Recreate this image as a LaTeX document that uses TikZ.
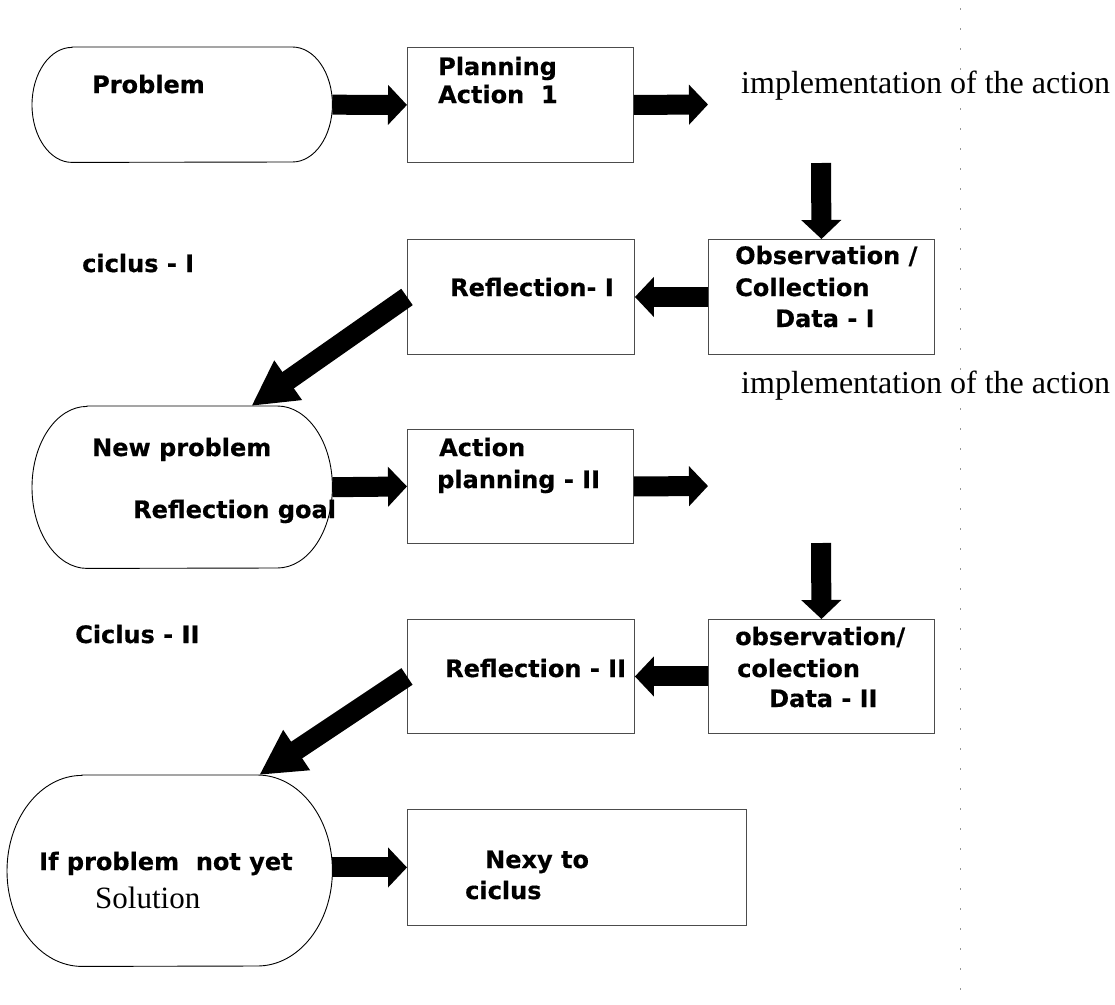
\documentclass[tikz,border=0pt]{standalone}
\usepackage{fontspec}
\setmainfont{Liberation Serif}
\newfontfamily\labelfont{DejaVu Sans Bold}[FakeBold=0.5]
\usetikzlibrary{calc,arrows.meta}

\tikzset{
  box/.style={draw=black!70, line width=0.9pt, inner sep=0pt, anchor=north west,
    minimum width=227pt, minimum height=115pt},
  oval/.style={inner sep=0pt, anchor=north west},
  lbl/.style={anchor=base west, inner sep=0pt, font=\labelfont\fontsize{24}{29}\selectfont},
  note/.style={anchor=base west, inner sep=0pt, font=\fontsize{32}{38}\selectfont},
  fat/.style={line width=20pt, -{Triangle[length=19pt,width=39pt]}},
  fatdiag/.style={line width=20pt, -{Triangle[length=45pt,width=45pt]}},
}

% outline of an oval node: node, x radius, y radius
\newcommand{\ovalline}[3]{%
  \draw[line width=0.9pt] ($(#1.north west)+(#2,0)$) -- ($(#1.north east)+(-#2,0)$)
    arc[start angle=90, end angle=-90, x radius=#2, y radius=#3]
    -- ($(#1.south west)+(#2,0)$)
    arc[start angle=270, end angle=90, x radius=#2, y radius=#3] -- cycle;}

\begin{document}
\begin{tikzpicture}[x=1pt,y=1pt]
  \useasboundingbox (0,0) rectangle (1115,-1004);

  % page margin
  \draw[black!40, line width=1pt, dash pattern=on 1.5pt off 18.5pt] (960,-8) -- (960,-1000);

  % ovals
  \node[oval, minimum width=300pt, minimum height=115pt] (prob) at (32,-47) {};
  \node[oval, minimum width=300pt, minimum height=162pt] (newprob) at (32,-406) {};
  \node[oval, minimum width=325pt, minimum height=191pt] (notyet) at (7,-775) {};
  \ovalline{prob}{40}{57.5}
  \ovalline{newprob}{55}{81}
  \ovalline{notyet}{75}{95.5}

  % boxes
  \node[box, minimum width=226pt] (plan1) at (407,-47) {};
  \node[box] (refl1) at (407,-239) {};
  \node[box, minimum width=226pt] (obs1) at (708,-239) {};
  \node[box, minimum width=226pt, minimum height=114pt] (plan2) at (407,-429) {};
  \node[box, minimum height=114pt] (refl2) at (407,-619) {};
  \node[box, minimum width=226pt, minimum height=114pt] (obs2) at (708,-619) {};
  \node[box, minimum width=339pt, minimum height=116pt] (next) at (407,-809) {};

  % free ends
  \coordinate (out1) at (708,-104.5);
  \coordinate (down1) at (821,-163);
  \coordinate (out2) at (708,-486);
  \coordinate (down2) at (821,-543);

  % arrows
  \draw[fat] (prob.east) -- (plan1.west);
  \draw[fat] (plan1.east) -- (out1);
  \draw[fat] (down1) -- (obs1.north);
  \draw[fat] (obs1.west) -- (refl1.east);
  \draw[fatdiag] (refl1.west) -- ($(newprob.north west)!0.73!(newprob.north east)$);
  \draw[fat] (newprob.east) -- (plan2.west);
  \draw[fat] (plan2.east) -- (out2);
  \draw[fat] (down2) -- (obs2.north);
  \draw[fat] (obs2.west) -- (refl2.east);
  \draw[fatdiag] (refl2.west) -- ($(notyet.north west)!0.775!(notyet.north east)$);
  \draw[fat] (next.west -| notyet.east) -- (next.west);

  % texts
  \node[lbl] (t-prob) at (92,-93) {Problem};
  \node[lbl] (t-plan1a) at (438,-75) {Planning};
  \node[lbl] (t-plan1b) at (438,-103) {Action\ \ 1};
  \node[note] (t-impl1) at (741,-93) {implementation of the action};
  \node[lbl] (t-cyc1) at (82,-272) {ciclus - I};
  \node[lbl] (t-refl1) at (450,-296) {Reflection- I};
  \node[lbl] (t-obs1a) at (735,-264) {Observation /};
  \node[lbl] (t-obs1b) at (735,-296) {Collection};
  \node[lbl] (t-obs1c) at (775,-327) {Data - I};
  \node[note] (t-impl2) at (741,-393) {implementation of the action};
  \node[lbl] (t-new1) at (92,-456) {New problem};
  \node[lbl] (t-new2) at (133,-518) {Reflection goal};
  \node[lbl] (t-plan2a) at (439,-456) {Action};
  \node[lbl] (t-plan2b) at (437,-488) {planning - II};
  \node[lbl] (t-cyc2) at (75,-643) {Ciclus - II};
  \node[lbl] (t-refl2) at (445,-677) {Reflection - II};
  \node[lbl] (t-obs2a) at (735,-645) {observation/};
  \node[lbl] (t-obs2b) at (737,-677) {colection};
  \node[lbl] (t-obs2c) at (769,-707) {Data - II};
  \node[lbl] (t-yet1) at (39,-870) {If problem\ \ not yet};
  \node[note, font=\fontsize{31}{36}\selectfont] (t-yet2) at (95,-908) {Solution};
  \node[lbl] (t-next1) at (485,-868) {Nexy to};
  \node[lbl] (t-next2) at (465,-899) {ciclus};
\end{tikzpicture}
\end{document}
